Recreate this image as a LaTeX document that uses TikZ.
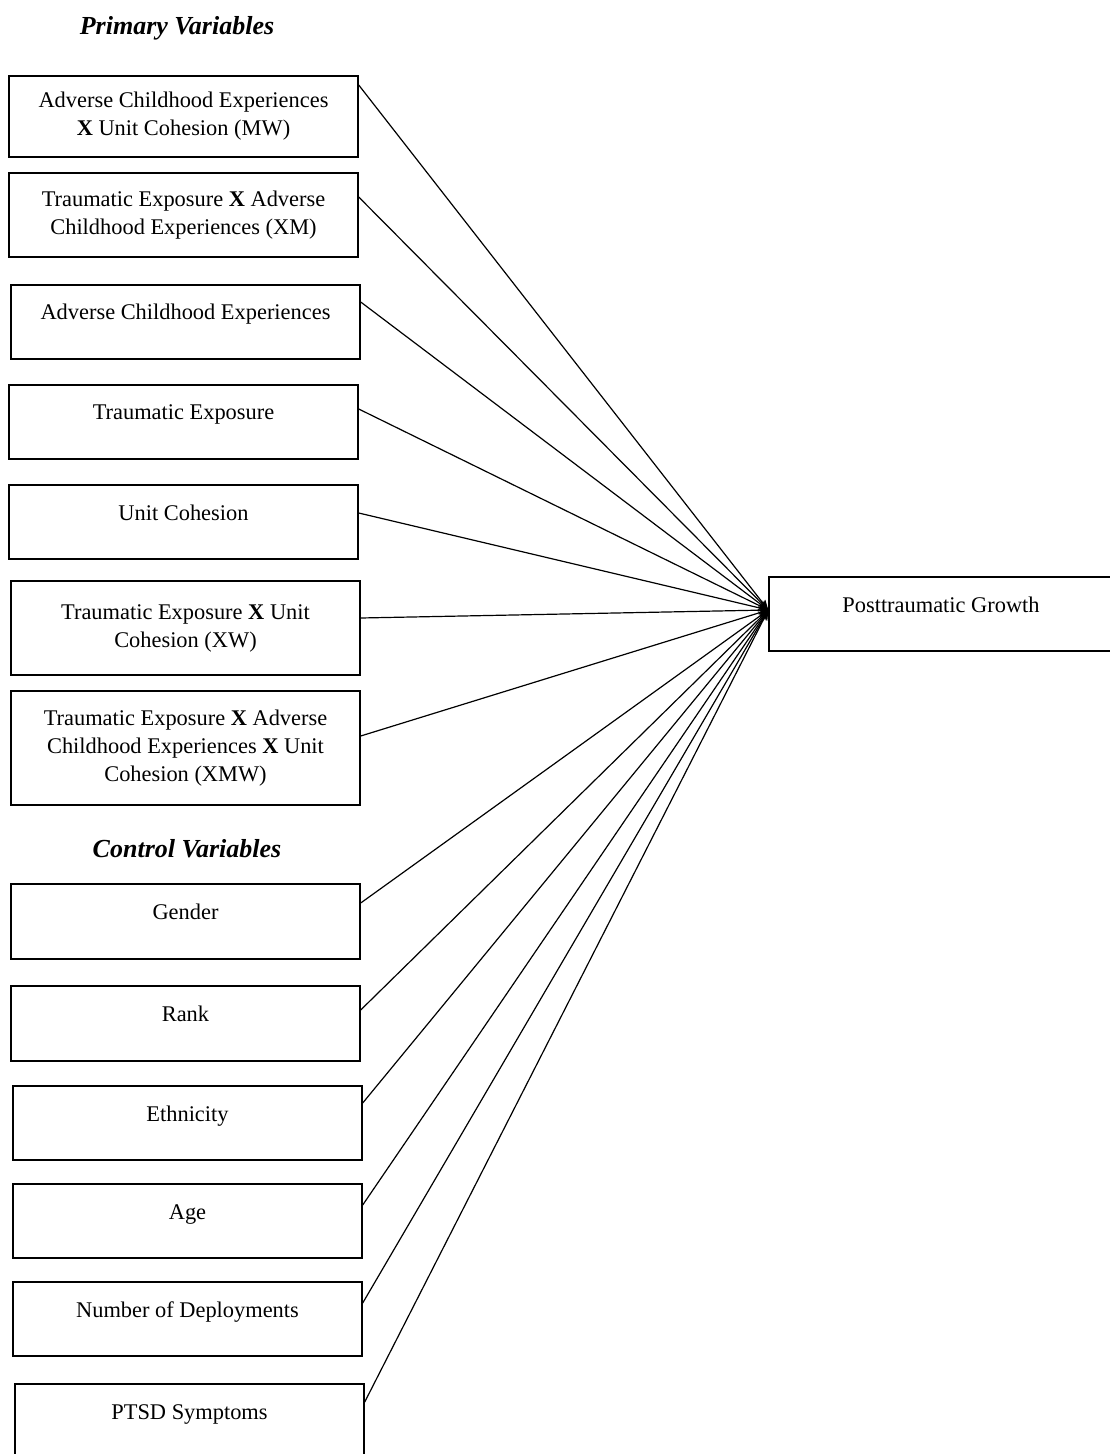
\documentclass[tikz,border=0pt]{standalone}
\usepackage{fontspec}
\setmainfont{Liberation Serif}
\usetikzlibrary{arrows.meta, positioning}

\begin{document}
\begin{tikzpicture}[on grid,>={Stealth[length=5pt,width=4pt]},
	box/.style={draw, line width=0.7pt, minimum width=174.5pt, minimum height=37pt, align=center, inner sep=2pt, font=\fontsize{11.2pt}{14pt}\selectfont},
	oneline/.style={text height=8pt, text depth=10pt},
	heading/.style={font=\fontsize{13pt}{15pt}\selectfont\bfseries\itshape}]
	
	\useasboundingbox (0,0) rectangle (554.5pt,-727pt);
	
	\node (mw) [box, minimum height=40.5pt] at (91.75pt,-58.25pt) {Adverse Childhood Experiences\\ \textbf{X} Unit Cohesion (MW)};
	\node (primary) [heading, above=44.25pt of mw, xshift=-3.25pt] {Primary Variables};
	\node (xm) [box, minimum height=42pt, below=49.25pt of mw] {Traumatic Exposure \textbf{X} Adverse\\ Childhood Experiences (XM)};
	\node (ace) [box, oneline, below=53.5pt of xm, xshift=1pt] {Adverse Childhood Experiences};
	\node (te) [box, oneline, below=50pt of ace, xshift=-1pt] {Traumatic Exposure};
	\node (uc) [box, oneline, below=50pt of te] {Unit Cohesion};
	\node (xw) [box, minimum height=47pt, below=53pt of uc, xshift=1pt] {Traumatic Exposure \textbf{X} Unit\\ Cohesion (XW)};
	\node (xmw) [box, minimum height=57pt, below=60pt of xw] {Traumatic Exposure \textbf{X} Adverse\\ Childhood Experiences \textbf{X} Unit\\ Cohesion (XMW)};
	
	\node (gender) [box, oneline, minimum height=37.5pt, below=86.75pt of xmw] {Gender};
	\node (control) [heading, above=36.25pt of gender, xshift=0.75pt] {Control Variables};
	\node (rank) [box, oneline, minimum height=37.5pt, below=51pt of gender] {Rank};
	\node (eth) [box, oneline, below=49.75pt of rank, xshift=1pt] {Ethnicity};
	\node (age) [box, oneline, below=49pt of eth] {Age};
	\node (nod) [box, oneline, below=49pt of age] {Number of Deployments};
	\node (ptsd) [box, oneline, below=51pt of nod, xshift=1pt] {PTSD Symptoms};
	
	\node (pg) [box, oneline, minimum width=172pt] at (470.5pt,-307pt) {Posttraumatic Growth};
	
	\foreach \n/\dy in {mw/15.75, xm/9, ace/10, te/6.5, uc/4.5, xw/5, xmw/6, gender/9.25, rank/6.75, eth/10, age/8, nod/8, ptsd/9.5}
		\draw [->, line width=0.6pt] ([yshift=\dy pt]\n.east) -- ([yshift=2pt]pg.west);
\end{tikzpicture}
\end{document}
